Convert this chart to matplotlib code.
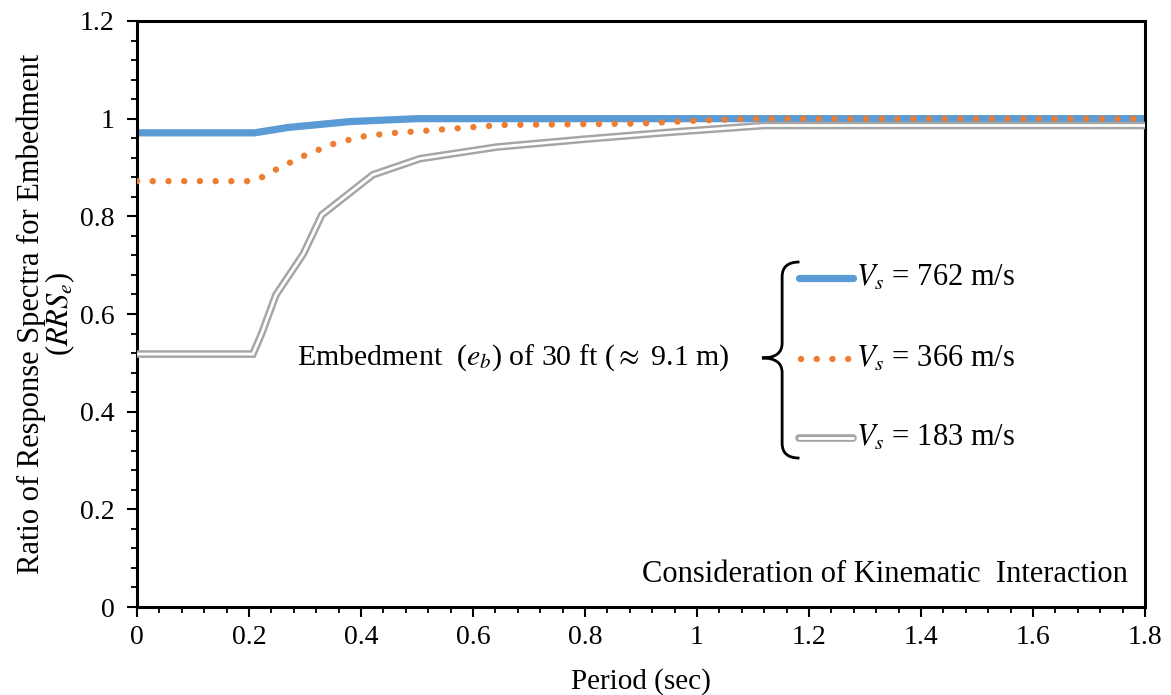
import matplotlib
matplotlib.use("Agg")
import matplotlib.pyplot as plt
from matplotlib.ticker import MultipleLocator, FuncFormatter
from matplotlib.path import Path
from matplotlib.patches import PathPatch

plt.rcParams['font.family'] = ['Liberation Serif', 'DejaVu Serif']
plt.rcParams['mathtext.fontset'] = 'stix'

# Data (period in sec, ratio RRS_e)
period_762 = [0.0, 0.21, 0.27, 0.38, 0.50, 1.80]
rrs_762 = [0.971, 0.971, 0.982, 0.994, 1.0, 1.0]

period_366 = [0.0, 0.20, 0.22, 0.25, 0.30, 0.35, 0.40, 0.45, 0.50, 0.65, 0.90, 1.00, 1.10, 1.80]
rrs_366 = [0.872, 0.872, 0.878, 0.897, 0.925, 0.948, 0.963, 0.970, 0.974, 0.987, 0.990, 0.996, 1.0, 1.0]

period_183 = [0.0, 0.207, 0.223, 0.248, 0.297, 0.330, 0.421, 0.505, 0.643, 0.80, 0.95, 1.12, 1.80]
rrs_183 = [0.518, 0.518, 0.561, 0.639, 0.723, 0.803, 0.885, 0.918, 0.942, 0.958, 0.972, 0.986, 0.986]

labels = [r'$V_s$ = 762 m/s', r'$V_s$ = 366 m/s', r'$V_s$ = 183 m/s']
x_ticks = [0, 0.2, 0.4, 0.6, 0.8, 1.0, 1.2, 1.4, 1.6, 1.8]
y_ticks = [0, 0.2, 0.4, 0.6, 0.8, 1.0, 1.2]

blue = '#5B9BD5'
orange = '#ED7D31'
gray = '#A5A5A5'

fig = plt.figure(figsize=(11.71, 6.95), dpi=100)
ax = fig.add_axes([0.117, 0.1266, 0.8608, 0.8432])

def gray_double(xs, ys, **kw):
    ax.plot(xs, ys, color=gray, lw=5.5, solid_capstyle='butt', solid_joinstyle='miter', **kw)
    ax.plot(xs, ys, color='white', lw=2.0, solid_capstyle='butt', solid_joinstyle='miter', **kw)

gray_double(period_183, rrs_183, zorder=3)
ax.plot(period_366, rrs_366, color=orange, lw=4.6, linestyle=(0, (0.01, 2.45)),
        dash_capstyle='round', zorder=4)
ax.plot(period_762, rrs_762, color=blue, lw=5.2, solid_capstyle='butt', zorder=2)

ax.set_xlim(0, 1.8)
ax.set_ylim(0, 1.2)
ax.set_xticks(x_ticks)
ax.set_yticks(y_ticks)
fmt = FuncFormatter(lambda v, p: ('%g' % round(v, 2)))
ax.xaxis.set_major_formatter(fmt)
ax.yaxis.set_major_formatter(fmt)
ax.xaxis.set_minor_locator(MultipleLocator(0.04))
ax.yaxis.set_minor_locator(MultipleLocator(0.04))
ax.tick_params(which='major', direction='out', length=7, width=1.5, labelsize=20)
ax.tick_params(axis='x', which='major', pad=6)
ax.tick_params(axis='y', which='major', pad=9)
ax.tick_params(which='minor', direction='out', length=4, width=1.3)
for s in ax.spines.values():
    s.set_linewidth(2.2)

ax.set_xlabel('Period (sec)', fontsize=21, labelpad=13)
ax.set_ylabel('Ratio of Response Spectra for Embedment\n' + r'($RRS_e$)', fontsize=22,
              linespacing=0.9, labelpad=2)

# Legend (manual, with brace)
leg_y = [0.674, 0.508, 0.346]
lx0, lx1 = 1.182, 1.279
ax.plot([lx0, lx1], [leg_y[0]] * 2, color=blue, lw=5.2, solid_capstyle='round', clip_on=False)
ax.plot([lx0 + 0.003, lx1], [leg_y[1]] * 2, color=orange, lw=4.6, linestyle=(0, (0.01, 2.45)),
        dash_capstyle='round', clip_on=False)
ax.plot([lx0, lx1], [leg_y[2]] * 2, color=gray, lw=5.5, solid_capstyle='round', clip_on=False)
ax.plot([lx0, lx1], [leg_y[2]] * 2, color='white', lw=2.0, solid_capstyle='round', clip_on=False)
for yy, lab in zip(leg_y, labels):
    ax.text(1.284, yy, lab, fontsize=22, va='center', ha='left')

# brace
xr, xs, xt = 1.183, 1.152, 1.116
yt, yb, ym = 0.7065, 0.305, 0.51
verts = [(xr, yt), (xs, yt), (xs, yt - 0.03),
         (xs, ym + 0.03),
         (xs, ym), (xt, ym),
         (xs, ym), (xs, ym - 0.03),
         (xs, yb + 0.03),
         (xs, yb), (xr, yb)]
codes = [Path.MOVETO, Path.CURVE3, Path.CURVE3,
         Path.LINETO,
         Path.CURVE3, Path.CURVE3,
         Path.CURVE3, Path.CURVE3,
         Path.LINETO,
         Path.CURVE3, Path.CURVE3]
ax.add_patch(PathPatch(Path(verts, codes), fill=False, lw=2.0, edgecolor='black'))

ax.text(0.286, 0.51, r'Embedment  ($e_b$) of 30 ft ($\approx$ 9.1 m)', fontsize=21.5,
        va='center', ha='left')
ax.text(1.77, 0.066, 'Consideration of Kinematic  Interaction', fontsize=22,
        va='center', ha='right')

fig.savefig('out.png', dpi=100)
